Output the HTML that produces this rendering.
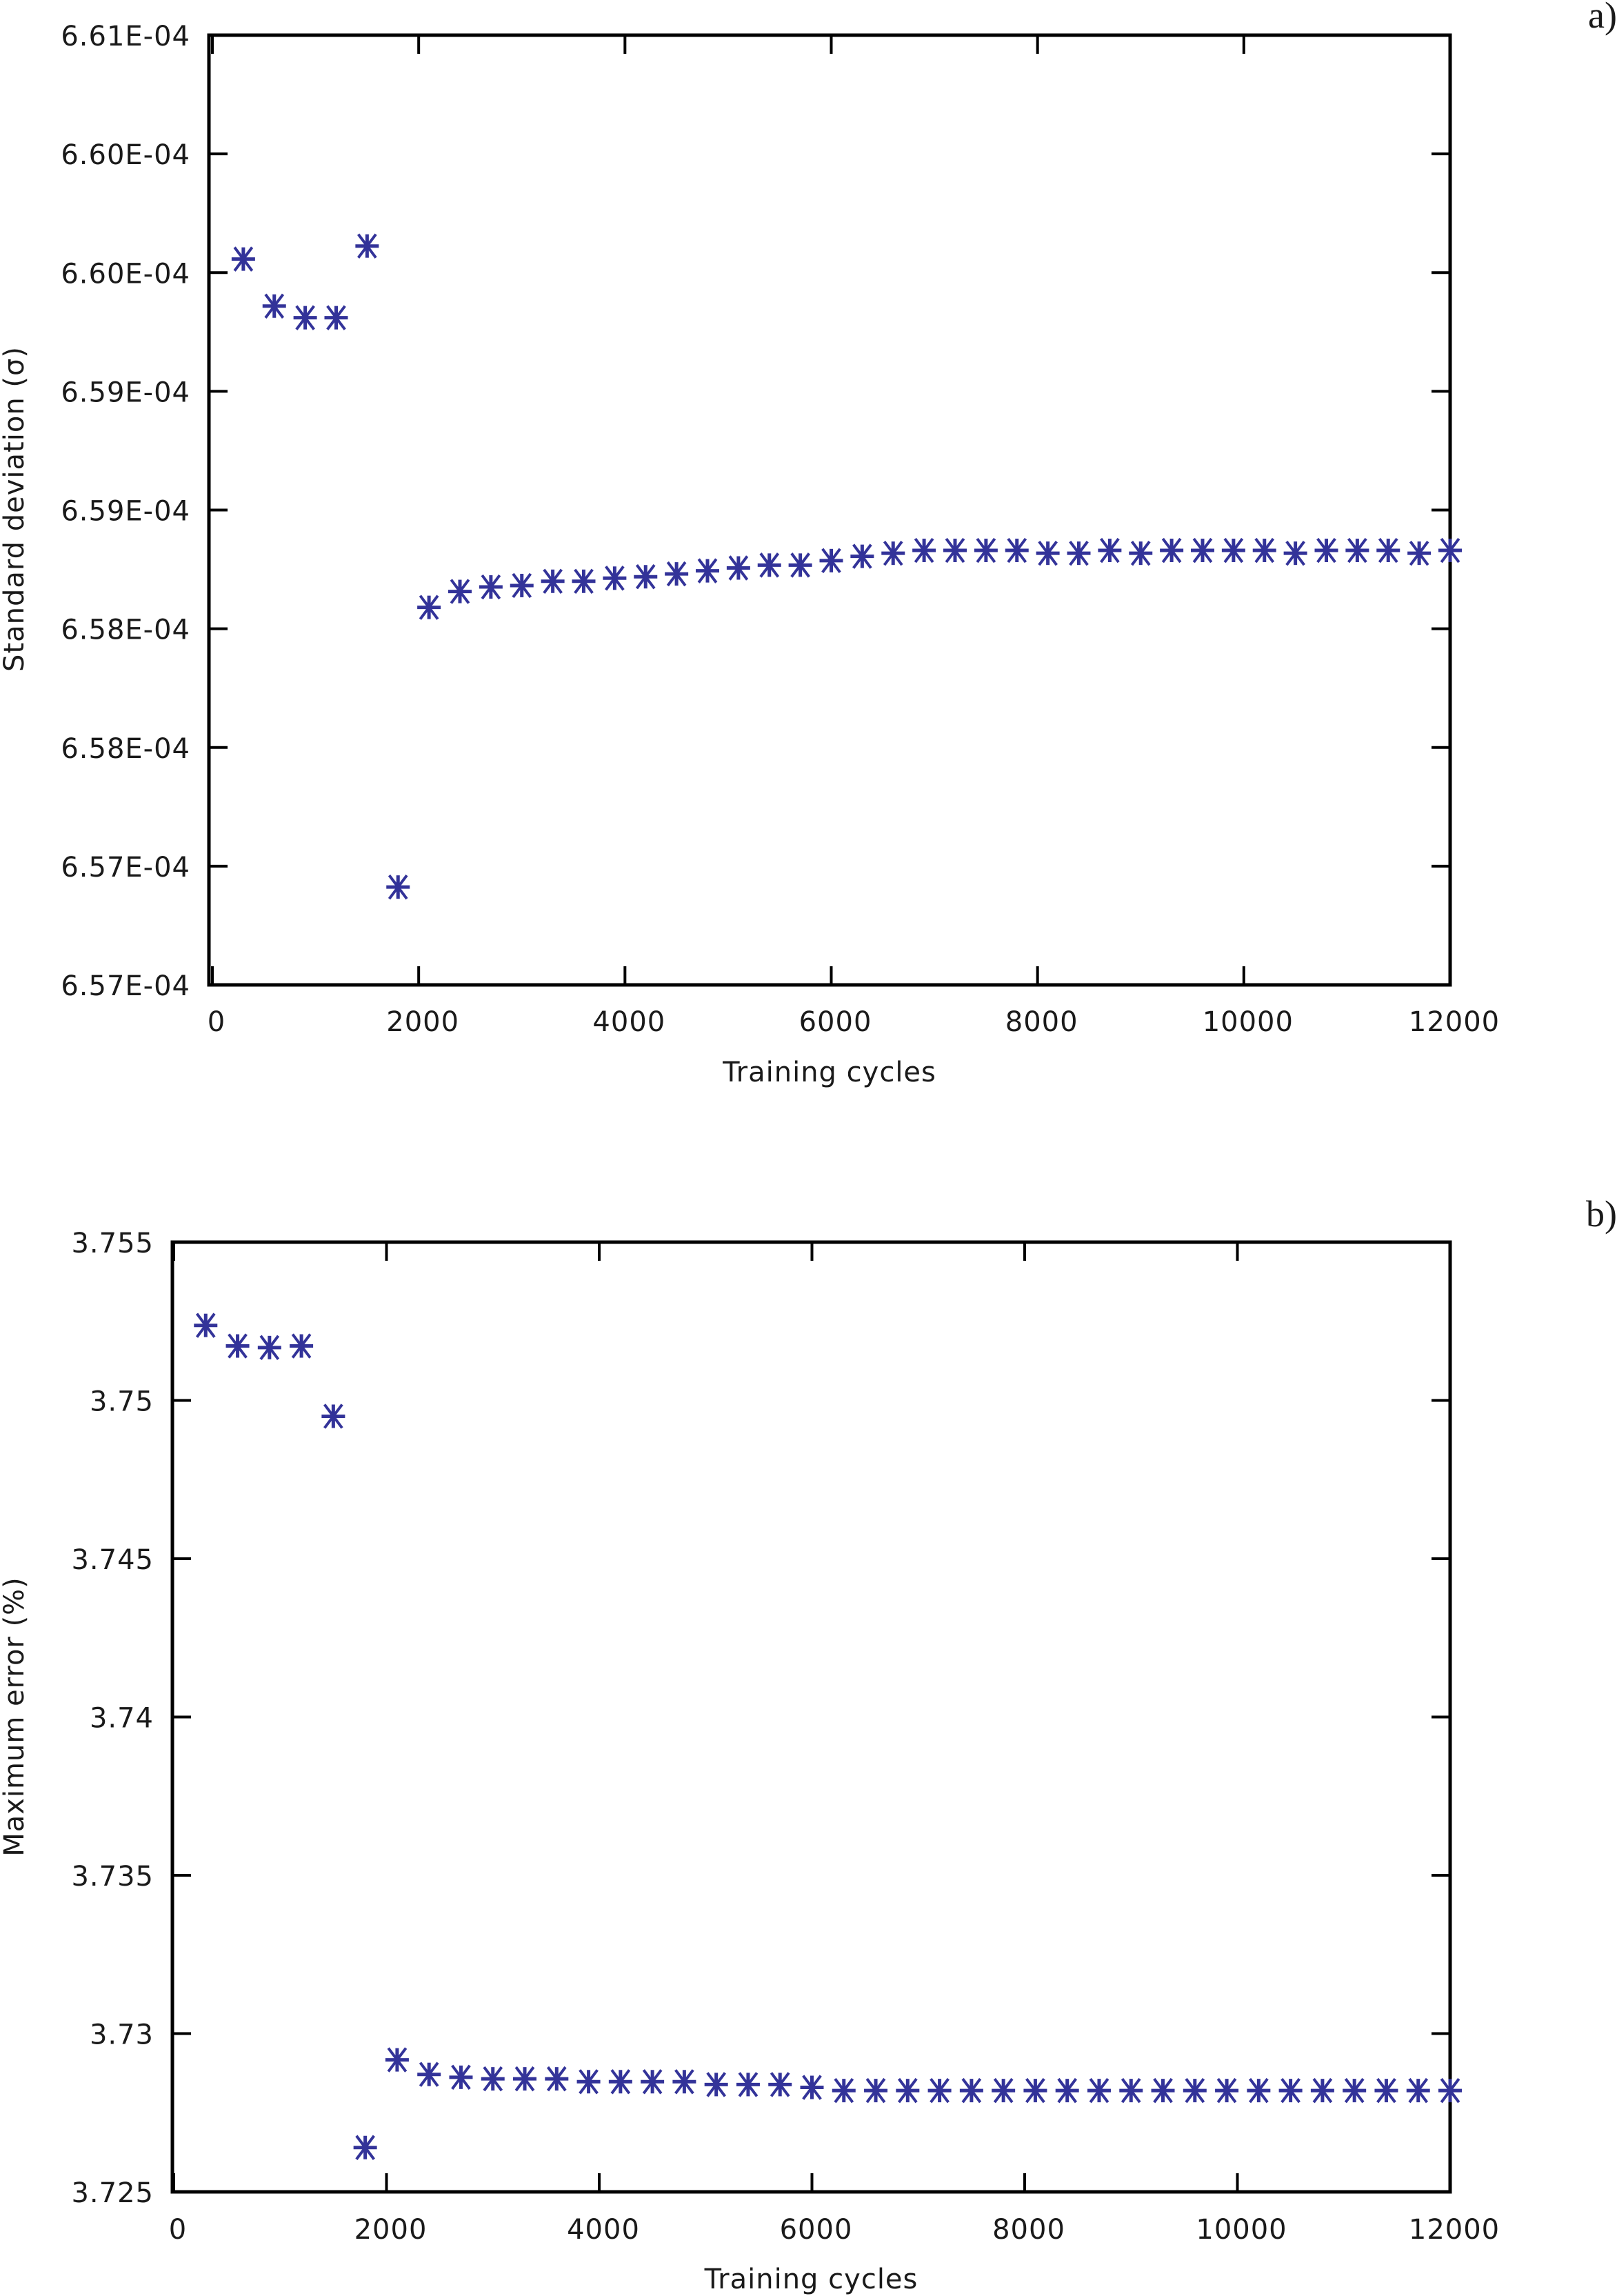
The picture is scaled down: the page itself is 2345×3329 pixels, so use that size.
<!DOCTYPE html>
<html><head><meta charset="utf-8">
<style>
html,body{margin:0;padding:0;background:#fff;}
svg{display:block;}
text{font-family:"DejaVu Sans","Liberation Sans",sans-serif;fill:#1a1a1a;letter-spacing:1px;}
</style></head>
<body>
<svg id="fig" width="2345" height="3329" viewBox="0 0 2345 3329" xmlns="http://www.w3.org/2000/svg">
<rect width="2345" height="3329" fill="#fff"/>
<text x="2345" y="40" text-anchor="end" style="font-family:'Liberation Serif',serif;font-size:54px;letter-spacing:0">a)</text>
<text x="2345" y="1778" text-anchor="end" style="font-family:'Liberation Serif',serif;font-size:54px;letter-spacing:0">b)</text>
<g id="chartA"></g>
<g id="chartB"></g>
</svg>
<script>
const cyclesA = [300,600,900,1200,1500,1800,2100,2400,2700,3000,3300,3600,3900,4200,4500,4800,5100,5400,5700,6000,6300,6600,6900,7200,7500,7800,8100,8400,8700,9000,9300,9600,9900,10200,10500,10800,11100,11400,11700,12000];
const stdDev = [6.60057,6.59859,6.59810,6.59810,6.60112,6.57412,6.58590,6.58657,6.58676,6.58682,6.58700,6.58700,6.58713,6.58719,6.58731,6.58744,6.58756,6.58768,6.58768,6.58787,6.58805,6.58818,6.58830,6.58830,6.58830,6.58830,6.58818,6.58818,6.58830,6.58818,6.58830,6.58830,6.58830,6.58830,6.58818,6.58830,6.58830,6.58830,6.58818,6.58830];
const yTicksA = [6.570,6.575,6.580,6.585,6.590,6.595,6.600,6.605,6.610];
const yTickLabelsA = ["6.57E-04","6.57E-04","6.58E-04","6.58E-04","6.59E-04","6.59E-04","6.60E-04","6.60E-04","6.61E-04"];
const xTicks = [0,2000,4000,6000,8000,10000,12000];
const xTickLabels = ["0","2000","4000","6000","8000","10000","12000"];

const cyclesB = [300,600,900,1200,1500,1800,2100,2400,2700,3000,3300,3600,3900,4200,4500,4800,5100,5400,5700,6000,6300,6600,6900,7200,7500,7800,8100,8400,8700,9000,9300,9600,9900,10200,10500,10800,11100,11400,11700,12000];
const maxError = [3.75237,3.75172,3.75167,3.75172,3.74950,3.72640,3.72917,3.72871,3.72862,3.72857,3.72857,3.72857,3.72848,3.72848,3.72848,3.72848,3.72839,3.72839,3.72839,3.72830,3.72820,3.72820,3.72820,3.72820,3.72820,3.72820,3.72820,3.72820,3.72820,3.72820,3.72820,3.72820,3.72820,3.72820,3.72820,3.72820,3.72820,3.72820,3.72820,3.72820];
const yTicksB = [3.725,3.730,3.735,3.740,3.745,3.750,3.755];
const yTickLabelsB = ["3.725","3.73","3.735","3.74","3.745","3.75","3.755"];

const NS="http://www.w3.org/2000/svg";
function mk(tag, attrs, parent){const e=document.createElementNS(NS,tag);for(const k in attrs)e.setAttribute(k,attrs[k]);parent.appendChild(e);return e;}

function drawChart(g, cfg){
  const {L,R,T,B,x0px,xmin,xmax,ymin,ymax,xs,ys,yT,yL,xT,xL,ytitle,xtitleY,xlabY,ytitleY}=cfg;
  const sx=v=>x0px+(v-xmin)/(xmax-xmin)*(R-x0px);
  const sy=v=>B-(v-ymin)/(ymax-ymin)*(B-T);
  const frame=mk('rect',{x:L,y:T,width:R-L,height:B-T,fill:'none',stroke:'#000','stroke-width':5},g);
  
  
  const tl=27;
  yT.forEach((v,i)=>{
    const y=sy(v);
    const t1=mk('line',{x1:L,y1:y,x2:L+tl,y2:y,stroke:'#000','stroke-width':4},g);
    
    
    const t2=mk('line',{x1:R,y1:y,x2:R-tl,y2:y,stroke:'#000','stroke-width':4},g);
    
    
    const tx=mk('text',{x:L-27,y:y+15,'text-anchor':'end','font-size':40},g);
    tx.textContent=yL[i];
    
    
  });
  xT.forEach((v,i)=>{
    const x=sx(v);
    const t1=mk('line',{x1:x,y1:B,x2:x,y2:B-tl,stroke:'#000','stroke-width':4},g);
    
    
    const t2=mk('line',{x1:x,y1:T,x2:x,y2:T+tl,stroke:'#000','stroke-width':4},g);
    
    
    const tx=mk('text',{x:x+6,y:xlabY,'text-anchor':'middle','font-size':40},g);
    tx.textContent=xL[i];
    
    
  });
  const xt=mk('text',{x:(L+R)/2,y:xtitleY,'text-anchor':'middle','font-size':40},g);
  xt.textContent='Training cycles';
  
  
  const yt=mk('text',{x:0,y:0,'text-anchor':'middle','font-size':40,transform:`translate(34,${ytitleY}) rotate(-90)`},g);
  yt.textContent=ytitle;
  
  
  const r=17;
  xs.forEach((v,i)=>{
    const cx=sx(v), cy=sy(ys[i]);
    const m=mk('g',{stroke:'#333399','stroke-width':5},g);
    
    
    const d=r*0.75;
    mk('line',{x1:cx-r,y1:cy,x2:cx+r,y2:cy},m);
    mk('line',{x1:cx,y1:cy-r,x2:cx,y2:cy+r},m);
    mk('line',{x1:cx-d,y1:cy-r,x2:cx+d,y2:cy+r,'stroke-width':4},m);
    mk('line',{x1:cx-d,y1:cy+r,x2:cx+d,y2:cy-r,'stroke-width':4},m);
  });
}
drawChart(document.getElementById('chartA'),{L:303,R:2103,T:51,B:1428,x0px:308,xmin:0,xmax:12000,ymin:6.570,ymax:6.610,xs:cyclesA,ys:stdDev,yT:yTicksA,yL:yTickLabelsA,xT:xTicks,xL:xTickLabels,ytitle:'Standard deviation (σ)',xtitleY:1568,xlabY:1495,ytitleY:738});
drawChart(document.getElementById('chartB'),{L:250,R:2103,T:1801,B:3178,x0px:252,xmin:0,xmax:12000,ymin:3.725,ymax:3.755,xs:cyclesB,ys:maxError,yT:yTicksB,yL:yTickLabelsB,xT:xTicks,xL:xTickLabels,ytitle:'Maximum error (%)',xtitleY:3318,xlabY:3246,ytitleY:2489});
</script>
</body></html>
